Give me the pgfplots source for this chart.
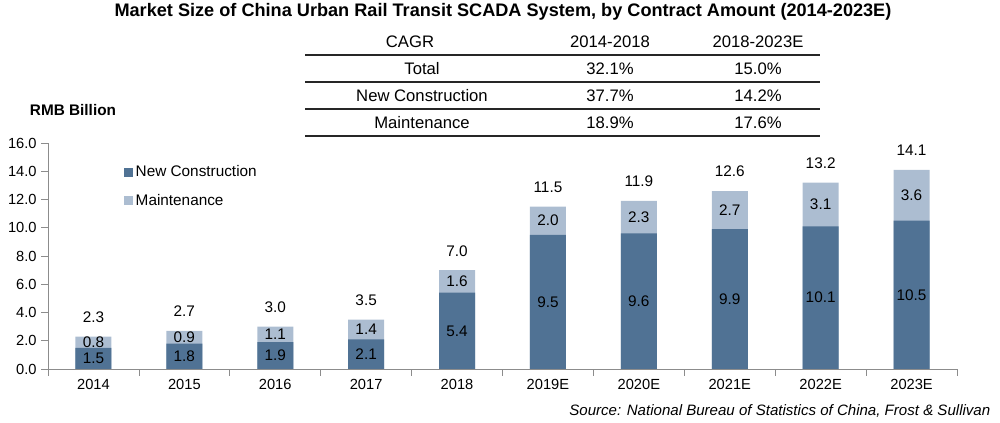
\documentclass[border=0pt]{standalone}
\usepackage{fontspec}
\setmainfont{Liberation Sans}
\usepackage{pgfplots}
\pgfplotsset{compat=1.18}
\usepackage{pgfplotstable}
\definecolor{darkbar}{HTML}{507294}
\definecolor{lightbar}{HTML}{ACBDD1}
\definecolor{axisgray}{HTML}{8C8C8C}

\pgfplotstableread{
x  nc    m    tot   ncmid  mmid
0  1.5   0.8  2.3   0.75   1.90
1  1.8   0.9  2.7   0.90   2.25
2  1.9   1.1  3.0   0.95   2.45
3  2.1   1.4  3.5   1.05   2.80
4  5.4   1.6  7.0   2.70   6.20
5  9.5   2.0  11.5  4.75   10.50
6  9.6   2.3  11.9  4.80   10.75
7  9.9   2.7  12.6  4.95   11.25
8  10.1  3.1  13.2  5.05   11.65
9  10.5  3.6  14.1  5.25   12.30
}\datatable

\begin{document}
\begin{tikzpicture}
\path[use as bounding box] (-36pt,-40.5pt) rectangle (714pt,276.75pt);
\begin{axis}[
  scale only axis,
  width=681.75pt, height=169.5pt,
  xmin=-0.5, xmax=9.5, ymin=0, ymax=16,
  axis x line*=bottom, axis y line*=left,
  axis line style={draw=axisgray, line width=0.6pt},
  tick align=outside,
  major tick length=5pt,
  tick style={draw=axisgray, line width=0.6pt},
  xtick={-0.5,0.5,...,9.5},
  xticklabels={},
  extra x ticks={0,1,2,3,4,5,6,7,8,9},
  extra x tick labels={2014,2015,2016,2017,2018,2019E,2020E,2021E,2022E,2023E},
  extra x tick style={major tick length=0pt, tick label style={font=\fontsize{11}{13}\selectfont, yshift=-4pt}},
  ytick={0,2,...,16},
  yticklabels={0.0,2.0,4.0,6.0,8.0,10.0,12.0,14.0,16.0},
  yticklabel style={font=\fontsize{11}{13}\selectfont},
  clip=false,
  legend style={draw=none, fill=none, at={(0.0836,0.912)}, anchor=north west,
    font=\fontsize{11.5}{13}\selectfont, inner sep=0pt, row sep=8pt,
    nodes={inner sep=1.8pt}},
  legend cell align=left,
  legend image code/.code={\fill[#1] (0pt,-3.4pt) rectangle (6.8pt,3.4pt);},
  every node near coord/.append style={anchor=center, text=black, font=\fontsize{11.5}{13}\selectfont},
]
\addlegendimage{fill=darkbar, draw=none}
\addlegendentry{New Construction}
\addlegendimage{fill=lightbar, draw=none}
\addlegendentry{Maintenance}

\addplot[ybar, bar width=27pt, bar shift=0pt, fill=lightbar, draw=none, forget plot] table[x=x, y=tot] {\datatable};
\addplot[ybar, bar width=27pt, bar shift=0pt, fill=darkbar, draw=none, forget plot] table[x=x, y=nc] {\datatable};

\addplot[draw=none, mark=none, nodes near coords, point meta=explicit symbolic, forget plot] table[x=x, y=ncmid, meta=nc] {\datatable};
\addplot[draw=none, mark=none, nodes near coords, point meta=explicit symbolic, forget plot] table[x=x, y=mmid, meta=m] {\datatable};
\addplot[draw=none, mark=none, nodes near coords, point meta=explicit symbolic, forget plot,
  every node near coord/.append style={yshift=14.5pt}] table[x=x, y=tot, meta=tot] {\datatable};
\end{axis}

% Title
\node[font=\bfseries\fontsize{13.6}{15}\selectfont] at (341.25pt,267.75pt) {Market Size of China Urban Rail Transit SCADA System, by Contract Amount (2014-2023E)};
% Unit label
\node[font=\bfseries\fontsize{11.5}{13}\selectfont] at (18.75pt,194.25pt) {RMB Billion};
% CAGR table
\begin{scope}[font=\fontsize{12.5}{14}\selectfont]
\node at (271.5pt,245.25pt) {CAGR};
\node at (421.5pt,245.25pt) {2014-2018};
\node at (532.5pt,245.25pt) {2018-2023E};
\node at (280.5pt,225pt) {Total};
\node at (421.5pt,225pt) {32.1\%};
\node at (532.5pt,225pt) {15.0\%};
\node at (280.5pt,204.75pt) {New Construction};
\node at (421.5pt,204.75pt) {37.7\%};
\node at (532.5pt,204.75pt) {14.2\%};
\node at (280.5pt,184.5pt) {Maintenance};
\node at (421.5pt,184.5pt) {18.9\%};
\node at (532.5pt,184.5pt) {17.6\%};
\end{scope}
\foreach \yy in {235.5,215.25,195,174.75}{
  \draw[line width=1.1pt, black!85] (192.75pt,\yy pt) -- (579pt,\yy pt);
}
% Source
\node[anchor=east, font=\itshape\fontsize{11.3}{13}\selectfont] at (710.25pt,-31.5pt) {Source: National Bureau of Statistics of China, Frost \& Sullivan};
\end{tikzpicture}
\end{document}
